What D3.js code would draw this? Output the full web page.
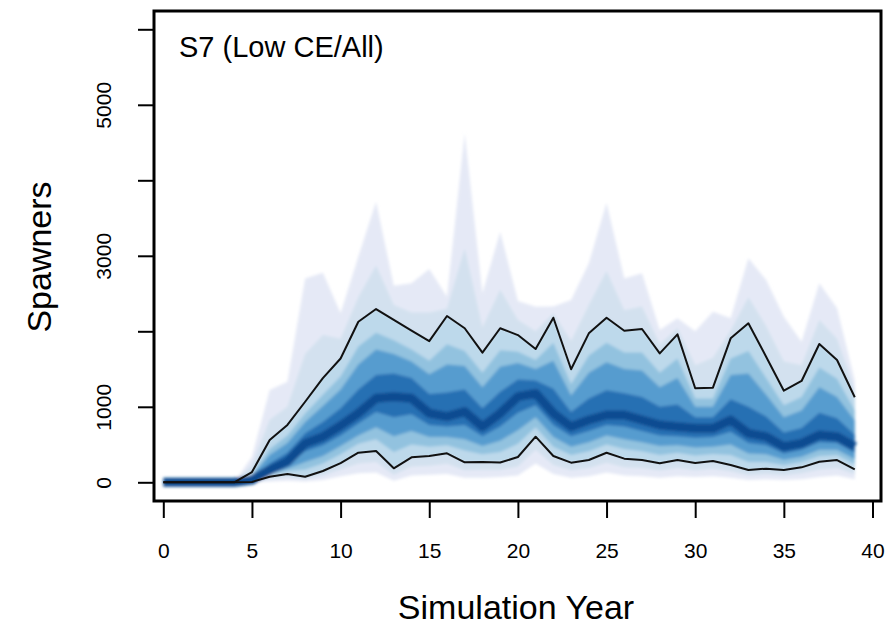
<!DOCTYPE html>
<html>
<head>
<meta charset="utf-8">
<script src="https://cdn.jsdelivr.net/npm/d3@7"></script>
<style>
  body { margin: 0; background: #fff; }
  svg { display: block; font-family: "Liberation Sans", Arial, sans-serif; }
</style>
</head>
<body>
<svg id="chart" width="891" height="631"></svg>
<script>
// simulation years 0..39
var years = d3.range(0, 40);

// quantiles of spawners per year
var p01 = [0,0,0,0,0, 0,10,20,10,30, 80,120,130,20,90, 100,110,60,60,70, 90,250,110,60,80, 130,90,80,60,80, 70,80,60,30,40, 30,40,70,90,40];
var p05 = [0,0,0,0,0, 2,40,65,40,90, 170,250,270,100,210, 220,245,160,165,165, 210,430,230,160,190, 260,200,190,155,190, 160,180,145,95,110, 95,120,170,190,105];
var p10 = [0,0,0,0,0, 5,74,110,74,150, 255,392,414,185,331, 348,384,265,268,262, 335,604,348,260,295, 392,313,295,251,295, 255,282,229,163,180, 163,198,273,295,172];
var p18 = [0,0,0,0,0, 10,92,145,170,250, 370,510,570,400,500, 470,490,420,370,400, 510,730,470,360,410, 500,440,410,360,390, 355,375,360,270,270, 230,270,350,360,240];
var p25 = [0,0,0,0,0, 15,110,180,270,350, 480,620,730,610,680, 600,600,570,480,550, 690,860,600,470,530, 620,570,530,480,490, 460,470,500,380,370, 300,340,430,430,310];
var p40 = [0,0,0,0,0, 20,140,230,410,490, 620,780,930,860,900, 760,740,760,610,740, 920,1020,760,610,680, 760,740,680,620,610, 590,600,670,520,490, 380,430,530,520,390];
var p50 = [0,0,0,0,0, 30,163,273,516,604, 750,914,1112,1134,1112, 914,869,936,736,914, 1134,1178,914,736,825, 891,891,825,759,736, 715,715,825,649,604, 472,516,627,604,472];
var p60 = [0,0,0,0,0, 55,250,390,650,800, 980,1230,1420,1440,1380, 1170,1190,1230,980,1200, 1360,1350,1240,930,1110, 1220,1180,1130,1000,1030, 860,860,1100,1000,870, 660,720,920,850,630];
var p75 = [0,0,0,0,0, 85,360,520,800,1010, 1230,1560,1760,1700,1600, 1430,1560,1540,1260,1530, 1580,1500,1610,1150,1450, 1590,1500,1480,1260,1380, 1000,1000,1420,1440,1160, 860,950,1260,1130,820];
var p82 = [0,0,0,0,0, 105,440,620,910,1160, 1400,1800,1980,1880,1760, 1610,1830,1740,1450,1750, 1730,1620,1850,1300,1680, 1850,1720,1720,1450,1640, 1110,1110,1640,1740,1380, 1020,1130,1520,1370,950];
var p90 = [0,0,0,0,0, 136,560,760,1067,1380, 1640,2127,2295,2150,2010, 1870,2203,2040,1717,2040, 1950,1765,2180,1497,1973, 2180,2008,2030,1708,1960, 1245,1253,1907,2106,1664, 1213,1342,1832,1620,1126];
var p95 = [0,0,0,0,0, 230,830,1000,1700,1950, 1900,2450,2870,2350,2250, 2250,2300,3100,2050,2550, 2150,2000,2240,1870,2350, 2800,2280,2330,1830,2040, 1550,1650,2010,2450,2070, 1600,1550,2150,1900,1220];
var p99 = [0,0,0,0,0, 340,1222,1332,2700,2777, 2240,2988,3717,2604,2636, 2825,2459,4622,2503,3320, 2400,2326,2330,2415,2900, 3703,2700,2768,2017,2172, 2000,2260,2172,2967,2680, 2194,1862,2636,2305,1350];

var xTicks = [0, 5, 10, 15, 20, 25, 30, 35, 40];
var yTicks = [0, 1000, 2000, 3000, 4000, 5000, 6000];
var yLabels = [0, 1000, 3000, 5000];

var svg = d3.select("#chart");

var x = d3.scaleLinear().domain([0, 40]).range([163.3, 872.5]);
var y = d3.scaleLinear().domain([0, 6000]).range([482.3, 29.3]);

var defs = svg.append("defs");
defs.append("filter").attr("id", "soft")
  .attr("x", "-5%").attr("y", "-5%").attr("width", "110%").attr("height", "110%")
  .append("feGaussianBlur").attr("stdDeviation", 1.8);
defs.append("clipPath").attr("id", "plotclip")
  .append("rect").attr("x", 154).attr("y", 11).attr("width", 727).attr("height", 490);

var bands = [
  { lo: p01, hi: p99, color: "#e5e9f6" },
  { lo: p05, hi: p95, color: "#d3e1ef" },
  { lo: p10, hi: p90, color: "#bdd9eb" },
  { lo: p18, hi: p82, color: "#92c2df" },
  { lo: p25, hi: p75, color: "#579ccf" },
  { lo: p40, hi: p60, color: "#2770b3" }
];

var area = function(lo, hi) {
  return d3.area()
    .x(function(d, i) { return x(years[i]); })
    .y0(function(d, i) { return y(lo[i]); })
    .y1(function(d, i) { return y(hi[i]); });
};

var fan = svg.append("g").attr("clip-path", "url(#plotclip)")
  .append("g").attr("filter", "url(#soft)");

bands.forEach(function(b) {
  fan.append("path")
    .datum(years)
    .attr("d", area(b.lo, b.hi))
    .attr("fill", b.color);
});

var line = function(vals) {
  return d3.line()
    .x(function(d, i) { return x(years[i]); })
    .y(function(d, i) { return y(vals[i]); });
};

fan.append("path").datum(years).attr("d", line(p50))
  .attr("fill", "none").attr("stroke", "#0d4c91").attr("stroke-width", 9)
  .attr("stroke-linejoin", "round");

[p10, p90].forEach(function(v) {
  svg.append("path").datum(years).attr("d", line(v))
    .attr("fill", "none").attr("stroke", "#111").attr("stroke-width", 2)
    .attr("stroke-linejoin", "round");
});

// box
svg.append("rect").attr("x", 154).attr("y", 11).attr("width", 727).attr("height", 490)
  .attr("fill", "none").attr("stroke", "#000").attr("stroke-width", 3);

// axes
var yAxis = d3.axisLeft(y).tickValues(yTicks).tickSize(16).tickSizeOuter(0)
  .tickFormat(function(d) { return yLabels.indexOf(d) >= 0 ? d : ""; });
var gy = svg.append("g").attr("transform", "translate(154,0)").call(yAxis);
gy.select(".domain").remove();
gy.selectAll(".tick line").attr("stroke", "#000").attr("stroke-width", 2);
gy.selectAll(".tick text")
  .attr("font-size", 21).attr("fill", "#000")
  .attr("x", 0).attr("dy", 0)
  .attr("text-anchor", "middle")
  .attr("transform", "translate(-36,0) rotate(-90)")
  .attr("y", -7);

var xAxis = d3.axisBottom(x).tickValues(xTicks).tickSize(16).tickSizeOuter(0);
var gx = svg.append("g").attr("transform", "translate(0,502)").call(xAxis);
gx.select(".domain").remove();
gx.selectAll(".tick line").attr("stroke", "#000").attr("stroke-width", 2);
gx.selectAll(".tick text").attr("font-size", 21).attr("fill", "#000").attr("y", 56).attr("dy", 0);

// labels
svg.append("text").attr("x", 179).attr("y", 57)
  .attr("font-size", 29).text("S7 (Low CE/All)");

svg.append("text").attr("x", 516).attr("y", 619)
  .attr("text-anchor", "middle").attr("font-size", 34).text("Simulation Year");

svg.append("text").attr("transform", "translate(51,257) rotate(-90)")
  .attr("text-anchor", "middle").attr("font-size", 34).text("Spawners");
</script>
</body>
</html>
